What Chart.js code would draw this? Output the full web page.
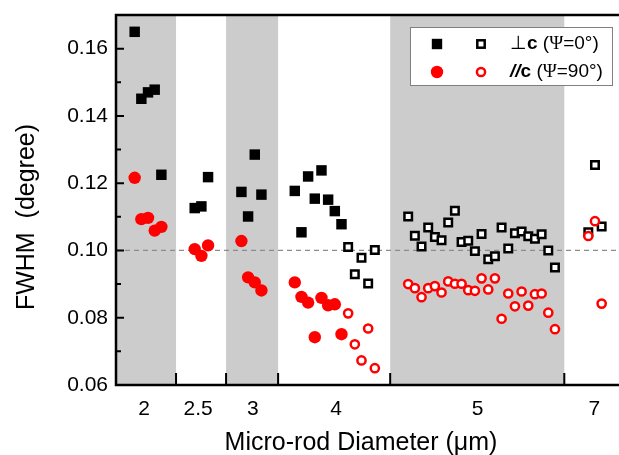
<!DOCTYPE html>
<html lang="en">
<head>
    <meta charset="UTF-8">
    <title>FWHM vs Micro-rod Diameter</title>
    <style>
        html, body { margin: 0; padding: 0; background: #fff; }
        .chart-box { width: 619px; height: 455px; position: relative; }
    </style>
</head>
<body>

    <div class="chart-box">
        <canvas id="fwhmChart"></canvas>
    </div>

    <script src="https://cdn.jsdelivr.net/npm/chart.js"></script>

    <script>
        // x = sample position along the axis, y = FWHM in degrees
        const perpFilledX = [3, 4, 5, 6, 7, 12, 13, 14, 19, 20, 21, 22, 27, 28, 29, 30, 31, 32, 33, 34];
        const perpFilledY = [0.1650, 0.1451, 0.1470, 0.1478, 0.1225,
                             0.1126, 0.1131, 0.1218,
                             0.1174, 0.1101, 0.1285, 0.1166,
                             0.1177, 0.1054, 0.1220, 0.1154, 0.1238, 0.1151, 0.1117, 0.1078];

        const perpOpenX = [35, 36, 37, 38, 39,
                           44, 45, 46, 47, 48, 49, 50, 51, 52, 53, 54, 55, 56, 57, 58, 59, 60, 61, 62, 63, 64, 65, 66,
                           71, 72, 73];
        const perpOpenY = [0.1010, 0.0929, 0.0978, 0.0902, 0.1001,
                           0.1101, 0.1044, 0.1012, 0.1068, 0.1040, 0.1030, 0.1083, 0.1118, 0.1025, 0.1029, 0.0998, 0.1049,
                           0.0974, 0.0983, 0.1068, 0.1006, 0.1051, 0.1056, 0.1042, 0.1035, 0.1048, 0.1000, 0.0949,
                           0.1054, 0.1254, 0.1071];

        const paraFilledX = [3, 4, 5, 6, 7, 12, 13, 14, 19, 20, 21, 22, 27, 28, 29, 30, 31, 32, 33, 34];
        const paraFilledY = [0.1216, 0.1093, 0.1097, 0.1059, 0.1070,
                             0.1004, 0.0984, 0.1015,
                             0.1028, 0.0920, 0.0905, 0.0881,
                             0.0905, 0.0862, 0.0845, 0.0742, 0.0859, 0.0837, 0.0840, 0.0751];

        const paraOpenX = [35, 36, 37, 38, 39,
                           44, 45, 46, 47, 48, 49, 50, 51, 52, 53, 54, 55, 56, 57, 58, 59, 60, 61, 62, 63, 64, 65, 66,
                           71, 72, 73];
        const paraOpenY = [0.0813, 0.0721, 0.0673, 0.0768, 0.0650,
                           0.0900, 0.0888, 0.0861, 0.0888, 0.0894, 0.0875, 0.0908, 0.0901, 0.0901, 0.0882, 0.0880, 0.0917,
                           0.0884, 0.0917, 0.0797, 0.0872, 0.0834, 0.0878, 0.0836, 0.0870, 0.0872, 0.0815, 0.0766,
                           0.1043, 0.1087, 0.0842];

        // diameter groups on the x axis
        const groupLabels = ['2', '2.5', '3', '4', '5', '7'];
        const groupLabelPos = [4.4, 12.5, 20.7, 33.2, 54.4, 71.9];
        const groupEdges = [9.2, 16.7, 24.5, 41.3, 67.4];
        const shadedBands = [[0.2, 9.2], [16.7, 24.5], [41.3, 67.4]];

        const yTicks = [0.06, 0.08, 0.10, 0.12, 0.14, 0.16];
        const yMinorTicks = [0.07, 0.09, 0.11, 0.13, 0.15];
        const refLine = 0.10;

        const FONT = '"Liberation Sans", Arial, sans-serif';

        function toPoints(xs, ys) {
            return xs.map((x, i) => ({ x: x, y: ys[i] }));
        }

        // bands behind everything
        const bandsPlugin = {
            id: 'bands',
            beforeDraw(chart) {
                const { ctx, chartArea, scales } = chart;
                ctx.save();
                ctx.fillStyle = '#cccccc';
                shadedBands.forEach(b => {
                    const x1 = scales.x.getPixelForValue(b[0]);
                    const x2 = scales.x.getPixelForValue(b[1]);
                    ctx.fillRect(x1, chartArea.top, x2 - x1, chartArea.bottom - chartArea.top);
                });
                // dashed line at 0.10
                const yRef = scales.y.getPixelForValue(refLine);
                ctx.strokeStyle = '#8c8c8c';
                ctx.lineWidth = 1.2;
                ctx.setLineDash([5, 4]);
                ctx.beginPath();
                ctx.moveTo(chartArea.left, yRef);
                ctx.lineTo(chartArea.right, yRef);
                ctx.stroke();
                ctx.restore();
            }
        };

        // frame, inward ticks, legend and axis titles
        const framePlugin = {
            id: 'frame',
            afterDraw(chart) {
                const { ctx, chartArea, scales } = chart;
                const { left, right, top, bottom } = chartArea;
                ctx.save();
                ctx.strokeStyle = '#000';
                ctx.lineWidth = 2.5;
                ctx.beginPath();
                ctx.moveTo(right + 2, top);
                ctx.lineTo(left, top);
                ctx.lineTo(left, bottom);
                ctx.lineTo(right + 2, bottom);
                ctx.stroke();

                ctx.lineWidth = 2;
                ctx.beginPath();
                yTicks.forEach(v => {
                    const y = scales.y.getPixelForValue(v);
                    ctx.moveTo(left, y);
                    ctx.lineTo(left + 8, y);
                });
                yMinorTicks.forEach(v => {
                    const y = scales.y.getPixelForValue(v);
                    ctx.moveTo(left, y);
                    ctx.lineTo(left + 5, y);
                });
                groupEdges.forEach(v => {
                    const x = scales.x.getPixelForValue(v);
                    ctx.moveTo(x, bottom);
                    ctx.lineTo(x, bottom - 12);
                });
                ctx.stroke();

                // axis titles
                ctx.fillStyle = '#000';
                ctx.font = '25px ' + FONT;
                ctx.textAlign = 'center';
                ctx.textBaseline = 'alphabetic';
                ctx.fillText('Micro-rod Diameter (\u03bcm)', 361, 450);

                ctx.save();
                ctx.translate(34, 217);
                ctx.rotate(-Math.PI / 2);
                ctx.fillText('FWHM  (degree)', 0, 0);
                ctx.restore();

                // legend
                ctx.fillStyle = '#fff';
                ctx.fillRect(410, 27, 202, 58);
                ctx.strokeStyle = '#808080';
                ctx.lineWidth = 1;
                ctx.strokeRect(410.5, 27.5, 202, 58);

                const r1 = 44, r2 = 72;
                ctx.fillStyle = '#000';
                ctx.fillRect(437 - 5.2, r1 - 5.2, 10.4, 10.4);
                ctx.lineWidth = 2.5;
                ctx.strokeStyle = '#000';
                ctx.fillStyle = '#fff';
                ctx.fillRect(481 - 3.7, r1 - 3.7, 7.4, 7.4);
                ctx.strokeRect(481 - 3.7, r1 - 3.7, 7.4, 7.4);

                ctx.fillStyle = '#ff0000';
                ctx.beginPath();
                ctx.arc(437, r2, 6.2, 0, Math.PI * 2);
                ctx.fill();
                ctx.strokeStyle = '#ff0000';
                ctx.fillStyle = '#fff';
                ctx.beginPath();
                ctx.arc(481, r2, 4.1, 0, Math.PI * 2);
                ctx.fill();
                ctx.stroke();

                ctx.fillStyle = '#000';
                ctx.textAlign = 'left';
                ctx.textBaseline = 'middle';
                const drawRuns = (runs, x, y) => {
                    runs.forEach(run => {
                        ctx.font = run[1];
                        ctx.fillText(run[0], x, y);
                        x += ctx.measureText(run[0]).width;
                    });
                };
                drawRuns([
                    ['\u22a5', '19px ' + FONT],
                    ['c', 'bold 19px ' + FONT],
                    [' (', '19px ' + FONT],
                    ['\u03a8', '19px "Liberation Serif", "DejaVu Serif", serif'],
                    ['=0\u00b0)', '19px ' + FONT]
                ], 510, r1);
                drawRuns([
                    ['//', 'italic bold 19px ' + FONT],
                    ['c', 'bold 19px ' + FONT],
                    [' (', '19px ' + FONT],
                    ['\u03a8', '19px "Liberation Serif", "DejaVu Serif", serif'],
                    ['=90\u00b0)', '19px ' + FONT]
                ], 510, r2);
                ctx.restore();
            }
        };

        const ctxFwhm = document.getElementById('fwhmChart');
        const fwhmChart = new Chart(ctxFwhm, {
            type: 'scatter',
            data: {
                datasets: [
                    {
                        label: '//c filled',
                        data: toPoints(paraFilledX, paraFilledY),
                        pointStyle: 'circle',
                        pointRadius: 6.2,
                        backgroundColor: '#ff0000',
                        borderWidth: 0,
                        order: 1
                    },
                    {
                        label: '//c open',
                        data: toPoints(paraOpenX, paraOpenY),
                        pointStyle: 'circle',
                        pointRadius: 4.1,
                        backgroundColor: '#ffffff',
                        borderColor: '#ff0000',
                        borderWidth: 2.5,
                        order: 1
                    },
                    {
                        label: 'perp c filled',
                        data: toPoints(perpFilledX, perpFilledY),
                        pointStyle: 'rect',
                        pointRadius: 7.4,
                        backgroundColor: '#000000',
                        borderWidth: 0,
                        order: 2
                    },
                    {
                        label: 'perp c open',
                        data: toPoints(perpOpenX, perpOpenY),
                        pointStyle: 'rect',
                        pointRadius: 5.3,
                        backgroundColor: '#ffffff',
                        borderColor: '#000000',
                        borderWidth: 2.5,
                        order: 2
                    }
                ]
            },
            options: {
                responsive: true,
                maintainAspectRatio: false,
                animation: false,
                events: [],
                layout: {
                    autoPadding: false,
                    padding: { top: 15, right: 0, left: 0, bottom: 0 }
                },
                plugins: {
                    legend: { display: false },
                    tooltip: { enabled: false }
                },
                scales: {
                    x: {
                        type: 'linear',
                        min: 0.2,
                        max: 75.6,
                        grid: { display: false, drawTicks: false },
                        border: { display: false },
                        afterBuildTicks: scale => {
                            scale.ticks = groupLabelPos.map(v => ({ value: v }));
                        },
                        afterFit: scale => {
                            scale.height = 70;
                            scale.paddingLeft = 0;
                            scale.paddingRight = 0;
                        },
                        ticks: {
                            padding: 12,
                            color: '#000',
                            font: { family: FONT, size: 21 },
                            maxRotation: 0,
                            autoSkip: false,
                            callback: (value, index) => groupLabels[index]
                        }
                    },
                    y: {
                        min: 0.06,
                        max: 0.17,
                        grid: { display: false, drawTicks: false },
                        border: { display: false },
                        afterBuildTicks: scale => {
                            scale.ticks = yTicks.map(v => ({ value: v }));
                        },
                        afterFit: scale => {
                            scale.width = 116;
                            scale.paddingTop = 0;
                            scale.paddingBottom = 0;
                        },
                        ticks: {
                            padding: 8,
                            color: '#000',
                            font: { family: FONT, size: 21 },
                            callback: value => value.toFixed(2)
                        }
                    }
                }
            },
            plugins: [bandsPlugin, framePlugin]
        });
    </script>

</body>
</html>
